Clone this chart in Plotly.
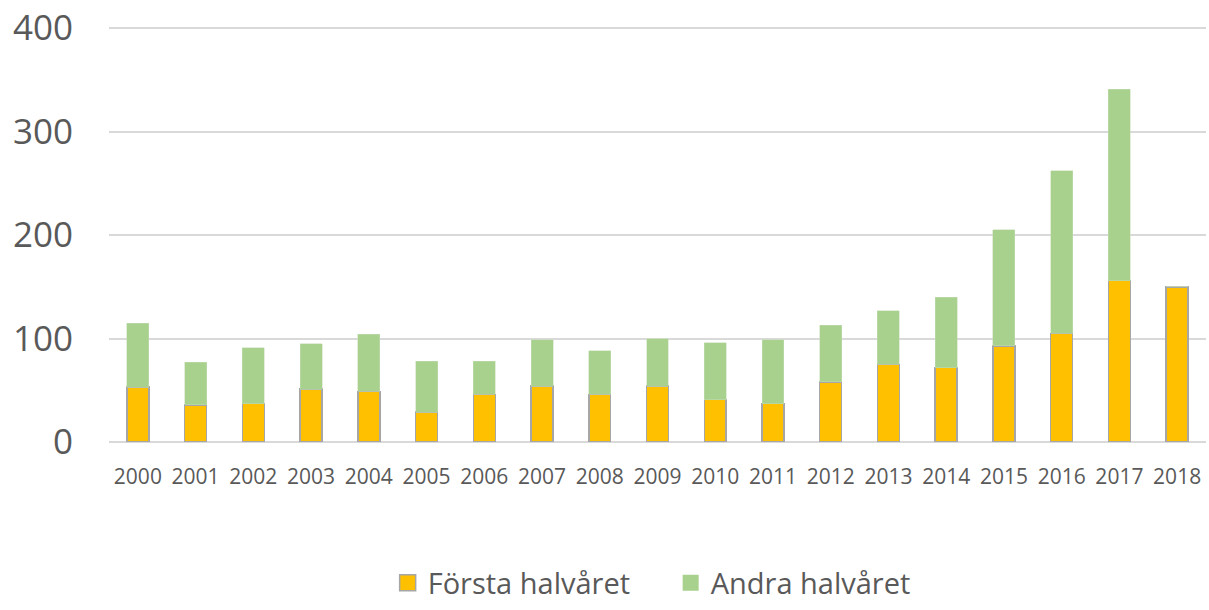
import plotly.graph_objects as go

years = [str(y) for y in range(2000, 2019)]
forsta = [53, 36, 37, 51, 49, 29, 46, 54, 46, 54, 41, 37, 58, 75, 72, 93, 105, 156, 150]
andra = [62, 41, 54, 44, 55, 49, 32, 45, 42, 46, 55, 62, 55, 52, 68, 112, 157, 185, 0]
y_ticks = [0, 100, 200, 300, 400]

ORANGE = "#FFC000"
GREEN = "#A9D18E"
EDGE = "#A6A6A6"
TXT = "#595959"

fig = go.Figure()
fig.add_trace(go.Bar(x=years, y=forsta, name="Första halvåret", marker=dict(color=ORANGE, line=dict(color=EDGE, width=1.5)), showlegend=False))
fig.add_trace(go.Bar(x=years, y=andra, name="Andra halvåret", marker=dict(color=GREEN, line=dict(color="#C5DDB5", width=0.5)), showlegend=False))
# legend entries
fig.add_trace(go.Scatter(x=[None], y=[None], mode="markers", name="Första halvåret",
                         marker=dict(symbol="square", size=16, color=ORANGE, line=dict(color=EDGE, width=1.5))))
fig.add_trace(go.Scatter(x=[None], y=[None], mode="markers", name="Andra halvåret",
                         marker=dict(symbol="square", size=16, color=GREEN, line=dict(color=GREEN, width=0))))

fig.update_layout(
    width=1209, height=610,
    margin=dict(l=109, r=3, t=24, b=168, autoexpand=False),
    barmode="stack", bargap=0.62,
    plot_bgcolor="white", paper_bgcolor="white",
    font=dict(family="Open Sans", color=TXT),
    legend=dict(orientation="h", x=0.512, xanchor="center", y=-0.337, yanchor="middle",
                font=dict(size=29, color=TXT), itemwidth=30, tracegroupgap=0, traceorder="normal",
                entrywidth=238, entrywidthmode="pixels"),
    xaxis=dict(type="category", showgrid=False, showline=False, zeroline=False, automargin=False,
               tickfont=dict(size=21, color=TXT), ticklabelstandoff=20, range=[-0.5, 18.5]),
    yaxis=dict(range=[0, 404], tickvals=y_ticks, showgrid=True, gridcolor="#D9D9D9", gridwidth=1.5,
               zeroline=True, zerolinecolor="#D9D9D9", zerolinewidth=1.5, ticklabeloverflow="allow",
               automargin=False, tickfont=dict(size=35, color=TXT), ticklabelstandoff=35),
)

fig.write_html("out.html", config={"displayModeBar": False},
               post_script="document.body.style.margin='0';")
